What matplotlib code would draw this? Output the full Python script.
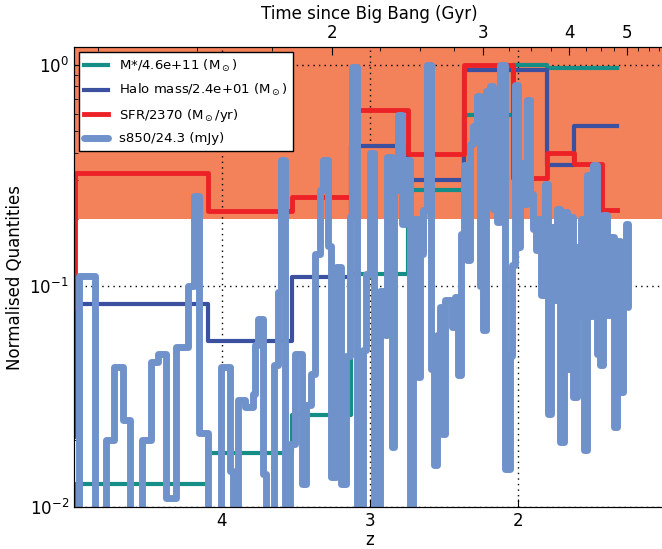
import numpy as np
import matplotlib
matplotlib.use('Agg')
import matplotlib.pyplot as plt
from matplotlib.ticker import FixedLocator, NullFormatter

# redshift edges where the model quantities step
z_edges = [5.0, 4.99, 4.095, 3.527, 3.128, 2.743, 2.365, 2.034, 1.804, 1.622, 1.432, 1.331]
mstar = [0.005, 0.0127, 0.0175, 0.026, 0.113, 0.27, 0.594, 1.0, 0.96, 0.96, 0.96, 0.96]
halo = [0.0207, 0.0825, 0.056, 0.109, 0.43, 0.30, 0.94, 0.94, 0.35, 0.525, 0.525, 0.525]
sfr = [0.08, 0.322, 0.217, 0.251, 0.62, 0.392, 0.99, 0.306, 0.40, 0.354, 0.219, 0.219]

# s850 trace (step values)
z_s = [5.0, 4.966, 4.858, 4.784, 4.730, 4.669, 4.622, 4.541, 4.480, 4.432,
       4.378, 4.311, 4.230, 4.189, 4.155, 4.095, 4.007, 3.946, 3.926, 3.892,
       3.845, 3.791, 3.777, 3.757, 3.723, 3.703, 3.649, 3.622, 3.601, 3.574,
       3.541, 3.507, 3.459, 3.432, 3.399, 3.372, 3.338, 3.318, 3.284, 3.264,
       3.230, 3.196, 3.162, 3.135, 3.122, 3.088, 3.047, 3.027, 3.000, 2.973,
       2.932, 2.899, 2.885, 2.851, 2.838, 2.811, 2.784, 2.764, 2.730, 2.709,
       2.676, 2.662, 2.642, 2.615, 2.588, 2.568, 2.547, 2.527, 2.514, 2.493,
       2.446, 2.426, 2.405, 2.385, 2.365, 2.345, 2.324, 2.304, 2.277, 2.257,
       2.236, 2.216, 2.189, 2.169, 2.142, 2.122, 2.088, 2.054, 2.041, 2.020,
       2.000, 1.986, 1.966, 1.939, 1.919, 1.899, 1.878, 1.865, 1.845, 1.818,
       1.797, 1.777, 1.757, 1.736, 1.716, 1.689, 1.669, 1.649, 1.628, 1.601,
       1.588, 1.574, 1.554, 1.534, 1.514, 1.493, 1.466, 1.446, 1.426, 1.399,
       1.378, 1.351, 1.331, 1.311, 1.291, 1.270, 1.257]
s850 = [0.005, 0.111, 0.005, 0.020, 0.043, 0.0247, 0.005, 0.020, 0.045, 0.049,
        0.011, 0.053, 0.10, 0.254, 0.0216, 0.005, 0.043, 0.0146, 0.005, 0.0306,
        0.0282, 0.0324, 0.054, 0.071, 0.0141, 0.005, 0.044, 0.094, 0.37, 0.005,
        0.0193, 0.049, 0.0127, 0.0288, 0.040, 0.139, 0.27, 0.37, 0.152, 0.0137,
        0.121, 0.0127, 0.048, 0.204, 0.97, 0.005, 0.051, 0.113, 0.40, 0.005,
        0.095, 0.06, 0.38, 0.0187, 0.27, 0.59, 0.19, 0.37, 0.005, 0.20,
        0.0386, 0.139, 0.219, 0.99, 0.042, 0.0155, 0.06, 0.08, 0.0213, 0.086,
        0.065, 0.089, 0.0395, 0.171, 0.353, 0.131, 0.435, 0.53, 0.72, 0.10,
        0.063, 0.76, 0.80, 0.222, 0.194, 1.0, 0.0148, 0.048, 0.124, 0.81,
        0.149, 0.36, 0.233, 0.69, 0.259, 0.18, 0.145, 0.20, 0.091, 0.287,
        0.0263, 0.184, 0.086, 0.222, 0.0196, 0.215, 0.042, 0.204, 0.0315, 0.149,
        0.074, 0.20, 0.0181, 0.318, 0.073, 0.353, 0.049, 0.044, 0.208, 0.074,
        0.166, 0.023, 0.16, 0.033, 0.157, 0.19, 0.08]

age_major = [2, 3, 4, 5]
age_minor = np.arange(1.25, 6.0, 0.25)

# flat LCDM, H0=71, Om=0.27
H0, Om = 71.0, 0.27
OL = 1 - Om
tH = 977.8 / H0
pref = 2.0 / (3.0 * np.sqrt(OL)) * tH


def z_of_age(t):
    t = np.asarray(t, dtype=float)
    return (np.sqrt(OL / Om) / np.sinh(t / pref)) ** (2.0 / 3.0) - 1


plt.rcParams['font.family'] = 'DejaVu Sans'
fig = plt.figure(figsize=(6.62, 5.49), dpi=100)
ax = fig.add_axes([73.8 / 662, 42 / 549, 592 / 662, 460 / 549])

ax.axhspan(0.2, 1.2, color='#f3815a', lw=0, zorder=0)
ax.step(z_edges, mstar, where='post', color='#168e88', lw=3, label=r'M*/4.6e+11 (M$_\odot$)')
ax.step(z_edges, halo, where='post', color='#3c50a0', lw=3, label=r'Halo mass/2.4e+01 (M$_\odot$)')
ax.step(z_edges, sfr, where='post', color='#ec2227', lw=3.5, label=r'SFR/2370 (M$_\odot$/yr)')
ax.step(z_s, s850, where='post', color='#7092cb', lw=5, solid_joinstyle='round',
        solid_capstyle='round', label='s850/24.3 (mJy)')

ax.set_yscale('log')
ax.set_ylim(0.01, 1.2)
ax.set_xlim(5.0, 1.0)
ax.set_xticks([4, 3, 2])
ax.grid(True, which='major', linestyle=(0, (1, 3)), color='k', lw=1)
ax.tick_params(which='both', direction='in', top=True, labelsize=12)
ax.tick_params(which='major', length=6)
ax.tick_params(which='minor', length=3)
ax.set_xlabel('z', fontsize=12, labelpad=1)
ax.set_ylabel('Normalised Quantities', fontsize=12)

ax2 = ax.twiny()
ax2.set_xlim(ax.get_xlim())
ax2.xaxis.set_major_locator(FixedLocator(z_of_age(age_major)))
ax2.set_xticklabels([str(a) for a in age_major])
minor = [a for a in age_minor if a not in age_major]
ax2.xaxis.set_minor_locator(FixedLocator(z_of_age(minor)))
ax2.xaxis.set_minor_formatter(NullFormatter())
ax2.tick_params(which='both', direction='in', labelsize=12)
ax2.tick_params(which='major', length=6)
ax2.tick_params(which='minor', length=3)
ax2.set_xlabel('Time since Big Bang (Gyr)', fontsize=12)

leg = ax.legend(loc='upper left', fontsize=9.5, fancybox=False, framealpha=1,
                edgecolor='k', borderaxespad=0.4, handlelength=1.8, labelspacing=0.65)
leg.get_frame().set_linewidth(1)

fig.savefig('out.png', dpi=100)
